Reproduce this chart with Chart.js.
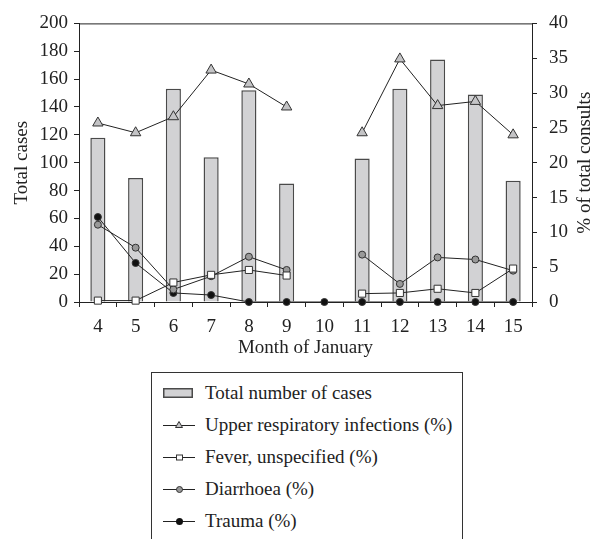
<!DOCTYPE html>
<html>
<head>
<meta charset="utf-8">
<script src="https://cdn.jsdelivr.net/npm/chart.js@4.4.0/dist/chart.umd.min.js"></script>
<style>
  html, body { margin: 0; padding: 0; background: #fff; }
  body { width: 603px; height: 539px; overflow: hidden; position: relative; }
  #chart { position: absolute; left: 0; top: 0; }
  .legend {
    position: absolute; left: 151px; top: 372px; width: 312px; height: 200px;
    box-sizing: border-box; border: 1px solid #333; padding-top: 4px;
    font: 19px "Liberation Serif", "DejaVu Serif", serif; color: #222;
  }
  .legend .row { height: 32px; display: flex; align-items: center; }
  .legend svg { margin-left: 11px; margin-right: 8px; flex: none; }
</style>
</head>
<body>
<canvas id="chart" width="603" height="372"></canvas>
<div class="legend">
  <div class="row"><svg width="34" height="14"><rect x="0.75" y="2.75" width="28.5" height="8.5" fill="#d2d2d4" stroke="#4a4a4a" stroke-width="1.5"/></svg>Total number of cases</div>
  <div class="row"><svg width="34" height="14"><line x1="0" y1="7.5" x2="32" y2="7.5" stroke="#222"/><polygon points="16,3.5 12.5,9.5 19.5,9.5" fill="#c4c4c6" stroke="#333"/></svg>Upper respiratory infections (%)</div>
  <div class="row"><svg width="34" height="14"><line x1="0" y1="7.5" x2="32" y2="7.5" stroke="#222"/><rect x="13.5" y="5" width="6" height="5" fill="#fff" stroke="#333"/></svg>Fever, unspecified (%)</div>
  <div class="row"><svg width="34" height="14"><line x1="0" y1="7.5" x2="32" y2="7.5" stroke="#222"/><circle cx="16.5" cy="7.5" r="3" fill="#999" stroke="#333"/></svg>Diarrhoea (%)</div>
  <div class="row"><svg width="34" height="14"><line x1="0" y1="7.5" x2="32" y2="7.5" stroke="#222"/><circle cx="16.5" cy="7.5" r="3.5" fill="#111"/></svg>Trauma (%)</div>
</div>
<script>
const DAYS = ["4", "5", "6", "7", "8", "9", "10", "11", "12", "13", "14", "15"];
const TOTAL_CASES = [118, 89, 153, 104, 152, 85, null, 103, 153, 174, 149, 87];
const UPPER_RESP = [25.7, 24.3, 26.6, 33.3, 31.3, 28.0, null, 24.3, 34.9, 28.2, 28.8, 24.0];
const FEVER = [0.2, 0.2, 2.8, 3.9, 4.6, 3.8, null, 1.2, 1.3, 1.9, 1.3, 4.8];
const DIARRHOEA = [11.1, 7.8, 1.8, 3.7, 6.5, 4.6, null, 6.8, 2.6, 6.4, 6.1, 4.5];
const TRAUMA = [12.2, 5.6, 1.3, 1.0, 0, 0, 0, 0, 0, 0, 0, 0];

const INK = "#222";
const FONT = { family: "'Liberation Serif', 'DejaVu Serif', serif", size: 19 };

// top frame line and the right-hand title (reads bottom to top)
const frame = {
  id: "frame",
  afterDraw(chart) {
    const { ctx, chartArea } = chart;
    ctx.save();
    ctx.strokeStyle = INK;
    ctx.lineWidth = 1;
    ctx.beginPath();
    ctx.moveTo(chartArea.left, chartArea.top + 0.5);
    ctx.lineTo(chartArea.right, chartArea.top + 0.5);
    ctx.stroke();
    ctx.translate(585, (chartArea.top + chartArea.bottom) / 2);
    ctx.rotate(-Math.PI / 2);
    ctx.fillStyle = INK;
    ctx.font = `${FONT.size}px ${FONT.family}`;
    ctx.textAlign = "center";
    ctx.textBaseline = "middle";
    ctx.fillText("% of total consults", 0, 0);
    ctx.restore();
  },
};

function lineSet(label, data, style, radius, fill) {
  return {
    type: "line", label, data, yAxisID: "y1", order: 1, clip: false,
    borderColor: INK, borderWidth: 1, pointStyle: style, pointRadius: radius,
    pointBackgroundColor: fill, pointBorderColor: "#333", pointBorderWidth: 1,
  };
}

function axisGrid() {
  return { drawOnChartArea: false, drawTicks: true, tickLength: 5, color: INK };
}

new Chart(document.getElementById("chart"), {
  data: {
    labels: DAYS,
    datasets: [
      lineSet("Upper respiratory infections (%)", UPPER_RESP, "triangle", 6, "#c4c4c6"),
      lineSet("Fever, unspecified (%)", FEVER, "rect", 5, "#fff"),
      lineSet("Diarrhoea (%)", DIARRHOEA, "circle", 3.5, "#999"),
      lineSet("Trauma (%)", TRAUMA, "circle", 3.5, "#111"),
      {
        type: "bar", label: "Total number of cases", data: TOTAL_CASES, yAxisID: "y", order: 5,
        backgroundColor: "#d2d2d4", borderColor: "#4a4a4a", borderWidth: 1.5,
        barPercentage: 0.4, categoryPercentage: 1,
      },
    ],
  },
  options: {
    responsive: false,
    animation: false,
    layout: { padding: { top: 15, left: 0, right: 0, bottom: 0 } },
    plugins: { legend: { display: false }, tooltip: { enabled: false } },
    scales: {
      x: {
        grid: { ...axisGrid(), offset: true },
        border: { color: INK, width: 1 },
        ticks: { color: INK, font: FONT, padding: 9, maxRotation: 0, autoSkip: false },
        title: { display: true, text: "Month of January", color: INK, font: FONT, padding: { top: 0, bottom: 13 } },
        afterFit: (scale) => { scale.height = 70; },
      },
      y: {
        position: "left", min: 0, max: 200,
        grid: axisGrid(),
        border: { color: INK, width: 1 },
        ticks: { stepSize: 20, color: INK, font: FONT, padding: 6 },
        title: { display: true, text: "Total cases", color: INK, font: FONT, padding: { top: 11, bottom: 0 } },
        afterFit: (scale) => { scale.width = 79; },
      },
      y1: {
        position: "right", min: 0, max: 40,
        grid: axisGrid(),
        border: { color: INK, width: 1 },
        ticks: { stepSize: 5, color: INK, font: FONT, padding: 12 },
        afterFit: (scale) => { scale.width = 71; },
      },
    },
  },
  plugins: [frame],
});
</script>
</body>
</html>
